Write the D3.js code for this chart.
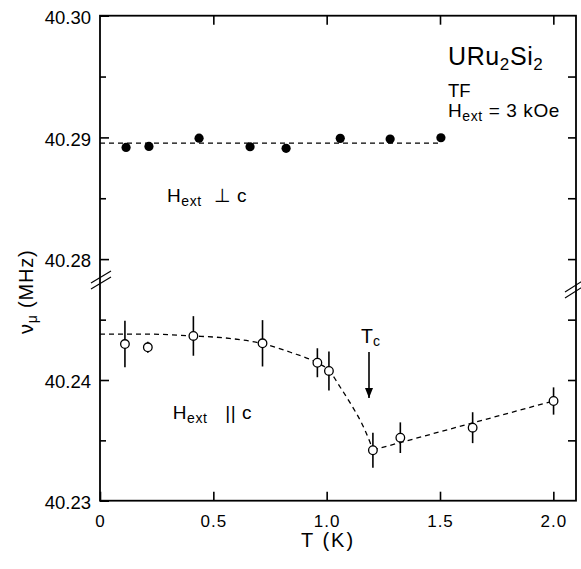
<!DOCTYPE html>
<html lang="en">
	<head>
		<meta charset="utf-8">
		<title>URu2Si2 muon frequency</title>
		<script type="text/javascript" src="https://cdn.jsdelivr.net/npm/d3@7"></script>
		<style>
			body { margin: 0; background: #fff; }
			text { font-family: "Liberation Sans", Arial, sans-serif; fill: #000; }
		</style>
	</head>
	<body>
    <script type="text/javascript">
			// data
			var xTicks = [0, 0.5, 1.0, 1.5, 2.0];
			var xTickLabels = ["0", "0.5", "1.0", "1.5", "2.0"];
			var yUpperTicks = [40.28, 40.29, 40.30];
			var yUpperMinor = [40.285, 40.295];
			var yLowerTicks = [40.23, 40.24];
			var yLowerMinor = [40.235, 40.245];

			// H ext perpendicular c (filled)
			var perpT = [0.115, 0.216, 0.437, 0.662, 0.821, 1.06, 1.28, 1.504];
			var perpV = [40.28918, 40.28926, 40.28994, 40.28923, 40.28910, 40.28992, 40.28986, 40.28997];
			var perpFitT = [0, 1.5];
			var perpFitV = [40.28953, 40.28953];

			// H ext parallel c (open, with error bars)
			var paraT = [0.110, 0.211, 0.412, 0.717, 0.959, 1.010, 1.204, 1.325, 1.644, 2.001];
			var paraV = [40.24298, 40.24271, 40.24365, 40.24304, 40.24143, 40.24075, 40.23418, 40.23522, 40.23605, 40.23826];
			var paraErr = [0.00193, 0.00046, 0.00164, 0.00192, 0.0012, 0.00162, 0.00146, 0.00127, 0.00128, 0.00113];
			var paraCurveT = [0, 0.2, 0.41, 0.57, 0.72, 0.84, 0.96, 1.01, 1.06, 1.11, 1.155, 1.19, 1.204];
			var paraCurveV = [40.2438, 40.2438, 40.24365, 40.24345, 40.2430, 40.2423, 40.2414, 40.2408, 40.2394, 40.2379, 40.2364, 40.2349, 40.2342];
			var paraLineT = [1.204, 2.0];
			var paraLineV = [40.2342, 40.23826];

			var Tc = 1.2;

			//setup
			var W = 581, H = 569;
			var pLeft = 100, pRight = 576, pTop = 15.7, pBottom = 500.7, pBrk = 277;
			var svg = d3.select("body").append("svg")
				.attr("width", W).attr("height", H);

			var x = d3.scaleLinear().domain([0, 2.1]).range([pLeft, pRight]);
			var yU = d3.scaleLinear().domain([40.30 - (pBrk - pTop) / 12170, 40.30]).range([pBrk, pTop]);
			var yL = d3.scaleLinear().domain([40.23, 40.23 + (pBottom - pBrk) / 12070]).range([pBottom, pBrk]);

			function zip(a, b) { return a.map(function(d, i) { return [d, b[i]]; }); }

			//axes, ticks inside
			function styleAxis(g) {
				g.select(".domain").remove();
				g.selectAll("line").attr("stroke", "#000").attr("stroke-width", 1.6);
				g.selectAll("text").style("font-size", "18.5px").attr("fill", "#000");
			}
			[[yU, yUpperTicks, yUpperMinor], [yL, yLowerTicks, yLowerMinor]].forEach(function(s) {
				svg.append("g").attr("transform", "translate(" + pLeft + ",0)")
					.call(d3.axisLeft(s[0]).tickValues(s[1]).tickSize(-9).tickPadding(9).tickFormat(d3.format(".2f")))
					.call(styleAxis)
					.selectAll("text").attr("dy", "0.42em");
				svg.append("g").attr("transform", "translate(" + pLeft + ",0)")
					.call(d3.axisLeft(s[0]).tickValues(s[2]).tickSize(-6).tickFormat(""))
					.call(styleAxis);
				svg.append("g").attr("transform", "translate(" + pRight + ",0)")
					.call(d3.axisRight(s[0]).tickValues(s[1].concat(s[2]).filter(function(v){ return v !== 40.30 && v !== 40.23; }))
						.tickSize(-8).tickFormat(""))
					.call(styleAxis);
			});
			svg.append("g").attr("transform", "translate(0," + pBottom + ")")
				.call(d3.axisBottom(x).tickValues(xTicks).tickSize(-9).tickPadding(14)
					.tickFormat(function(d, i) { return xTickLabels[i]; }))
				.call(styleAxis)
				.selectAll("text").style("font-size", "17px").style("letter-spacing", "1px");
			svg.append("g").attr("transform", "translate(0," + pTop + ")")
				.call(d3.axisTop(x).tickValues(xTicks.slice(1)).tickSize(-9).tickFormat(""))
				.call(styleAxis);

			//frame
			svg.append("rect")
				.attr("x", pLeft).attr("y", pTop)
				.attr("width", pRight - pLeft).attr("height", pBottom - pTop)
				.attr("fill", "none").attr("stroke", "#000").attr("stroke-width", 1.8);

			//axis break marks
			var breaks = [[91, 283, 111, 271], [91, 289, 111, 277], [565, 292, 584, 280], [565, 298, 584, 286]];
			svg.selectAll("line.brk").data(breaks).enter().append("line")
				.attr("class", "brk")
				.attr("x1", function(d) { return d[0]; }).attr("y1", function(d) { return d[1]; })
				.attr("x2", function(d) { return d[2]; }).attr("y2", function(d) { return d[3]; })
				.attr("stroke", "#000").attr("stroke-width", 1.1);

			//fit lines
			function dashed(pts, yS, curve) {
				svg.append("path")
					.attr("d", d3.line().x(function(d) { return x(d[0]); }).y(function(d) { return yS(d[1]); }).curve(curve)(pts))
					.attr("fill", "none").attr("stroke", "#000").attr("stroke-width", 1.3)
					.attr("stroke-dasharray", "5,4");
			}
			dashed(zip(perpFitT, perpFitV), yU, d3.curveLinear);
			dashed(zip(paraCurveT, paraCurveV), yL, d3.curveMonotoneX);
			dashed(zip(paraLineT, paraLineV), yL, d3.curveLinear);

			//filled points
			svg.selectAll("circle.perp").data(zip(perpT, perpV)).enter().append("circle")
				.attr("class", "perp")
				.attr("cx", function(d) { return x(d[0]); })
				.attr("cy", function(d) { return yU(d[1]); })
				.attr("r", 4.6).attr("fill", "#000");

			//error bars and open points
			var para = paraT.map(function(t, i) { return {t: t, v: paraV[i], e: paraErr[i]}; });
			svg.selectAll("line.err").data(para).enter().append("line")
				.attr("class", "err")
				.attr("x1", function(d) { return x(d.t); }).attr("x2", function(d) { return x(d.t); })
				.attr("y1", function(d) { return yL(d.v + d.e); })
				.attr("y2", function(d) { return yL(d.v - d.e); })
				.attr("stroke", "#000").attr("stroke-width", 1.6);
			svg.selectAll("circle.para").data(para).enter().append("circle")
				.attr("class", "para")
				.attr("cx", function(d) { return x(d.t); })
				.attr("cy", function(d) { return yL(d.v); })
				.attr("r", 4.3).attr("fill", "#fff").attr("stroke", "#000").attr("stroke-width", 1.3);

			//Tc arrow
			svg.append("defs").append("marker")
				.attr("id", "head").attr("viewBox", "0 0 10 10")
				.attr("refX", 10).attr("refY", 5)
				.attr("markerWidth", 10).attr("markerHeight", 10)
				.attr("markerUnits", "userSpaceOnUse").attr("orient", "auto")
				.append("path").attr("d", "M0,1 L10,5 L0,9 Z").attr("fill", "#000");
			svg.append("line")
				.attr("x1", x(Tc) - 3).attr("x2", x(Tc) - 3)
				.attr("y1", 352).attr("y2", 398)
				.attr("stroke", "#000").attr("stroke-width", 1.6)
				.attr("marker-end", "url(#head)");
			var tc = svg.append("text").attr("x", x(Tc) - 11).attr("y", 343).style("font-size", "19.5px");
			tc.append("tspan").text("T");
			tc.append("tspan").attr("dy", 3).style("font-size", "14px").text("c");

			//annotations
			var t1 = svg.append("text").attr("x", 448).attr("y", 65).style("font-size", "25px").style("letter-spacing", "0.6px");
			t1.append("tspan").text("URu");
			t1.append("tspan").attr("dy", 5).style("font-size", "17px").text("2");
			t1.append("tspan").attr("dy", -5).text("Si");
			t1.append("tspan").attr("dy", 5).style("font-size", "17px").text("2");

			svg.append("text").attr("x", 448).attr("y", 96.7).style("font-size", "18.5px").text("TF");

			function hext(xp, yp, rest) {
				var t = svg.append("text").attr("x", xp).attr("y", yp).style("font-size", "19px").style("letter-spacing", "0.6px");
				t.append("tspan").text("H");
				t.append("tspan").attr("dy", 4).style("font-size", "14px").text("ext");
				t.append("tspan").attr("dy", -4).attr("xml:space", "preserve").text(rest);
				return t;
			}
			hext(448, 117, " = 3 kOe");
			hext(167, 201.7, "  \u22A5 c");
			hext(172.7, 419.3, "   || c");

			//axis titles
			svg.append("text").attr("x", 301).attr("y", 547)
				.style("font-size", "20px").style("letter-spacing", "2px").text("T (K)");
			var yt = svg.append("text")
				.attr("transform", "translate(33,334) rotate(-90)")
				.style("font-size", "20px").style("letter-spacing", "0.8px");
			yt.append("tspan").text("\u03BD");
			yt.append("tspan").attr("dy", 4).style("font-size", "14px").text("\u03BC");
			yt.append("tspan").attr("dy", -4).text(" (MHz)");
    </script>
  </body>
</html>
